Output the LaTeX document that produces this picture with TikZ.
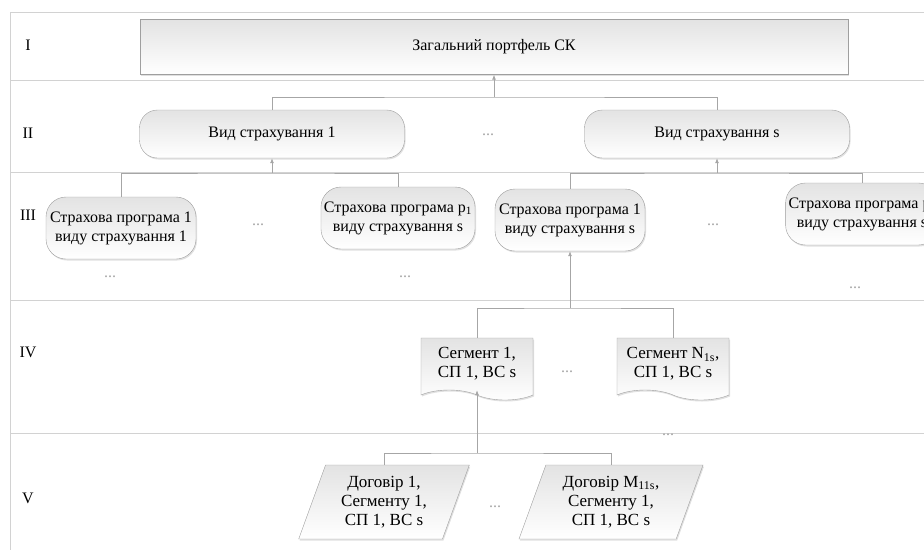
\documentclass[tikz,border=0pt]{standalone}
\usepackage{fontspec}
\setmainfont{Liberation Serif}
\usetikzlibrary{shapes.symbols,shapes.geometric,arrows.meta,shadows}

\begin{document}
\begin{tikzpicture}[x=1pt, y=-1pt, font=\fontsize{16}{19}\selectfont,
    box/.style = {draw=gray!75, align=center, top color=gray!22, bottom color=white,
                  drop shadow={shadow xshift=1pt, shadow yshift=-1.5pt, fill=gray!60, opacity=0.4}},
    kind/.style = {box, rounded corners=18pt, minimum width=265pt, minimum height=48pt},
    prog/.style = {box, rounded corners=20pt, inner xsep=3pt, minimum width=150pt, minimum height=62pt},
    seg/.style = {box, tape, tape bend top=none, tape bend bottom=out and in, tape bend height=10pt,
                  font=\fontsize{17}{19}\selectfont, minimum width=112pt, minimum height=62pt},
    deal/.style = {box, trapezium, trapezium left angle=70, trapezium right angle=110,
                   font=\fontsize{17}{19}\selectfont, minimum width=168pt, minimum height=74pt},
    link/.style = {draw=gray!70, line width=0.8pt},
    lane/.style = {draw=gray!35, line width=0.8pt},
    dots/.style = {text=gray!70}]
  \useasboundingbox (0,0) rectangle (924,550);

  % lanes
  \draw[lane] (924,12) -- (10,12) -- (10,550);
  \foreach \y in {80,172,300,433}
    \draw[lane] (10,\y) -- (924,\y);
  \foreach \t/\y in {I/45, II/133, III/215, IV/352, V/498}
    \node (lane\t) at (28,\y) {\t};

  % level I, II
  \node[box, minimum width=708pt, minimum height=55pt] (port) at (494,47) {Загальний портфель СК};
  \node[kind] (vid1) at (272,134) {Вид страхування 1};
  \node[kind] (vids) at (717,134) {Вид страхування s};
  \node[dots] (dots2) at (488,135) {...};

  % level III
  \node[prog] (p11) at (121,228) {Страхова програма 1\\виду страхування 1};
  \node[prog] (p1s) at (398,218) {Страхова програма p\textsubscript{1}\\виду страхування s};
  \node[prog] (ps1) at (570,220) {Страхова програма 1\\виду страхування s};
  \node[prog] (pss) at (862,214) {Страхова програма p\textsubscript{s}\\виду страхування s};
  \node[dots] (dots3a) at (258,225) {...};
  \node[dots] (dots3b) at (110,277) {...};
  \node[dots] (dots3c) at (405,277) {...};
  \node[dots] (dots3d) at (713,225) {...};
  \node[dots] (dots3e) at (855,288) {...};

  % level IV
  \node[seg] (g1) at (477,364) {Сегмент 1,\\СП 1, ВС s};
  \node[seg] (gn) at (673,364) {Сегмент N\textsubscript{1s},\\СП 1, ВС s};
  \node[dots] (dots4a) at (567,372) {...};
  \node[dots] (dots4b) at (668,435) {...};

  % level V
  \node[deal] (c1) at (384,502) {Договір 1,\\Сегменту 1,\\СП 1, ВС s};
  \node[deal] (cm) at (611,502) {Договір M\textsubscript{11s},\\Сегменту 1,\\СП 1, ВС s};
  \node[dots] (dots5) at (495,507) {...};

  % connectors
  \coordinate (j2) at (494,97);
  \coordinate (j3a) at (272,173);
  \coordinate (j3b) at (717,173);
  \coordinate (j4) at (570,308);
  \coordinate (j5) at (477,453);
  \draw[link] (vid1.north) |- (j2) -| (vids.north);
  \draw[link, -{Latex[length=5pt,width=4pt]}] (j2) -- (port.south);
  \draw[link] (p11.north) |- (j3a) -| (p1s.north);
  \draw[link, -{Latex[length=5pt,width=4pt]}] (j3a) -- (vid1.south);
  \draw[link] (ps1.north) |- (j3b) -| (pss.north);
  \draw[link, -{Latex[length=5pt,width=4pt]}] (j3b) -- (vids.south);
  \draw[link] (g1.north) |- (j4) -| (gn.north);
  \draw[link, -{Latex[length=5pt,width=4pt]}] (j4) -- (ps1.south);
  \draw[link] (c1.north) |- (j5) -| (cm.north);
  \draw[link, -{Latex[length=5pt,width=4pt]}] (j5) -- (g1.south);
\end{tikzpicture}
\end{document}
